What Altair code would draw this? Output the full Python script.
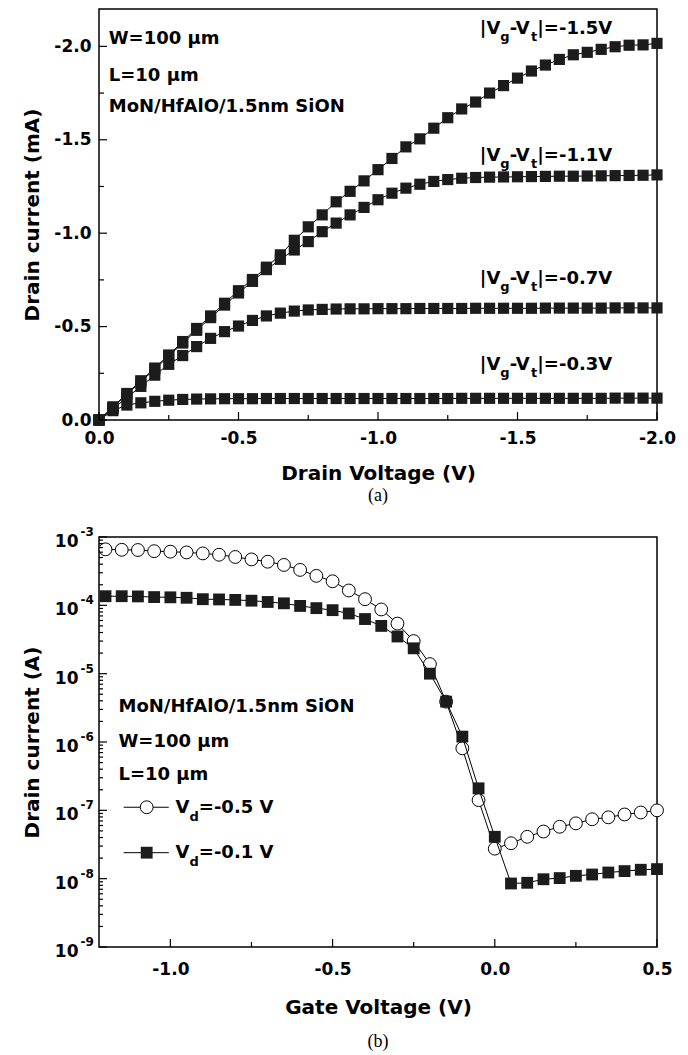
import altair as alt
import pandas as pd

# ---------------- Panel (a): output characteristics (mA) ----------------
vd = [0.0, -0.05, -0.1, -0.15, -0.2, -0.25, -0.3, -0.35, -0.4, -0.45, -0.5,
      -0.55, -0.6, -0.65, -0.7, -0.75, -0.8, -0.85, -0.9, -0.95, -1.0,
      -1.05, -1.1, -1.15, -1.2, -1.25, -1.3, -1.35, -1.4, -1.45, -1.5,
      -1.55, -1.6, -1.65, -1.7, -1.75, -1.8, -1.85, -1.9, -1.95, -2.0]

id_03 = [0.0, -0.050, -0.080, -0.092, -0.100, -0.106, -0.110, -0.112, -0.113, -0.114,
         -0.114, -0.114, -0.115, -0.115, -0.115, -0.115, -0.115, -0.115, -0.115, -0.115,
         -0.115, -0.115, -0.115, -0.115, -0.115, -0.115, -0.116, -0.116, -0.116, -0.116,
         -0.116, -0.116, -0.116, -0.116, -0.116, -0.116, -0.116, -0.117, -0.117, -0.117,
         -0.117]
id_07 = [0.0, -0.060, -0.120, -0.180, -0.240, -0.298, -0.345, -0.393, -0.437, -0.473,
         -0.503, -0.533, -0.557, -0.572, -0.583, -0.589, -0.592, -0.594, -0.595, -0.595,
         -0.596, -0.596, -0.596, -0.597, -0.597, -0.597, -0.597, -0.598, -0.598, -0.598,
         -0.598, -0.598, -0.599, -0.599, -0.599, -0.599, -0.599, -0.600, -0.600, -0.600,
         -0.600]
id_11 = [0.0, -0.068, -0.138, -0.205, -0.272, -0.342, -0.412, -0.480, -0.548, -0.615,
         -0.680, -0.742, -0.805, -0.860, -0.910, -0.955, -1.008, -1.054, -1.098, -1.138,
         -1.179, -1.214, -1.241, -1.262, -1.277, -1.287, -1.294, -1.298, -1.300, -1.301,
         -1.302, -1.303, -1.304, -1.305, -1.305, -1.306, -1.307, -1.308, -1.309, -1.310,
         -1.312]
id_15 = [0.0, -0.070, -0.142, -0.210, -0.278, -0.348, -0.420, -0.490, -0.557, -0.625,
         -0.692, -0.752, -0.818, -0.884, -0.962, -1.034, -1.098, -1.168, -1.224, -1.280,
         -1.340, -1.400, -1.462, -1.505, -1.562, -1.618, -1.665, -1.702, -1.750, -1.790,
         -1.830, -1.868, -1.900, -1.930, -1.955, -1.968, -1.984, -1.998, -2.006, -2.008,
         -2.016]

a_info = ["W=100 µm", "L=10 µm", "MoN/HfAlO/1.5nm SiON"]
a_info_x = -0.035
a_info_y = [-2.012, -1.817, -1.651]
a_lab_tail = ["|=-1.5V", "|=-1.1V", "|=-0.7V", "|=-0.3V"]
a_lab_x = -1.365
a_lab_y = [-2.066, -1.389, -0.729, -0.266]

a_x_major = [0.0, -0.5, -1.0, -1.5, -2.0]
a_x_minor = [-0.25, -0.75, -1.25, -1.75]
a_y_major = [0.0, -0.5, -1.0, -1.5, -2.0]
a_y_minor = [-0.25, -0.75, -1.25, -1.75]

# ---------------- Panel (b): transfer characteristics (A) ----------------
vg = [-1.2, -1.15, -1.1, -1.05, -1.0, -0.95, -0.9, -0.85, -0.8, -0.75,
      -0.7, -0.65, -0.6, -0.55, -0.5, -0.45, -0.4, -0.35, -0.3, -0.25,
      -0.2, -0.15, -0.1, -0.05, 0.0, 0.05, 0.1, 0.15, 0.2, 0.25,
      0.3, 0.35, 0.4, 0.45, 0.5]
id_05 = [6.6e-4, 6.5e-4, 6.45e-4, 6.2e-4, 6.1e-4, 5.95e-4, 5.75e-4, 5.5e-4, 5.1e-4, 4.7e-4,
         4.35e-4, 3.9e-4, 3.3e-4, 2.7e-4, 2.25e-4, 1.65e-4, 1.23e-4, 8.7e-5, 5.4e-5, 3.0e-5,
         1.38e-5, 3.9e-6, 8.1e-7, 1.41e-7, 2.75e-8, 3.3e-8, 4.1e-8, 4.9e-8, 5.75e-8, 6.45e-8,
         7.4e-8, 7.9e-8, 8.7e-8, 9.3e-8, 1.0e-7]
id_01 = [1.36e-4, 1.36e-4, 1.35e-4, 1.32e-4, 1.31e-4, 1.29e-4, 1.23e-4, 1.22e-4, 1.2e-4, 1.17e-4,
         1.12e-4, 1.07e-4, 9.8e-5, 9.1e-5, 8.5e-5, 7.6e-5, 6.3e-5, 5.0e-5, 3.5e-5, 2.35e-5,
         1.0e-5, 3.9e-6, 1.2e-6, 2.1e-7, 4.1e-8, 8.5e-9, 8.7e-9, 9.8e-9, 1.02e-8, 1.1e-8,
         1.15e-8, 1.23e-8, 1.29e-8, 1.35e-8, 1.38e-8]

b_info = ["MoN/HfAlO/1.5nm SiON", "W=100 µm", "L=10 µm"]
b_info_x = -1.16
b_info_y = [2.74e-6, 8.4e-7, 2.77e-7]
b_leg_tail = ["=-0.5 V", "=-0.1 V"]
b_leg_line_x = [-1.144, -1.005]
b_leg_marker_x = -1.073
b_leg_y = [1.11e-7, 2.4e-8]
b_leg_text_x = -0.984
b_leg_base_y = [9.1e-8, 2.0e-8]

b_x_major = [-1.0, -0.5, 0.0, 0.5]
b_x_minor = [-0.75, -0.25, 0.25]
b_decades = [1e-9, 1e-8, 1e-7, 1e-6, 1e-5, 1e-4, 1e-3]
b_exps = ["-9", "-8", "-7", "-6", "-5", "-4", "-3"]
b_minor_mult = [2, 3, 4, 5, 6, 7, 8, 9]
b_y_minor = [m * d for d in b_decades[:-1] for m in b_minor_mult]

# ---------------- styling ----------------
FONT = "DejaVu Sans"
SERIF = "Liberation Serif"
TICK_FS = 17
ANN_FS = 18
SUB_FS = 13
TITLE_FS = 20
W = 558
H1 = 411
H2 = 410
MAJ = 8
MIN = 5
SQ_COLOR = "#1c1c1c"

EM = {"|": 0.367, "V": 0.774, "-": 0.415, "g": 0.716, "t": 0.478, "d": 0.716}


def tw(s, fs):
    return sum(EM.get(c, 0.6) for c in s) * fs


MINUS_FIX = "replace(format(datum.value, '.1f'), '\u2212', '-')"

xs_a = alt.Scale(domain=[0, -2.0], nice=False, zero=False)
ys_a = alt.Scale(domain=[0, -2.2], nice=False, zero=False)
xs_b = alt.Scale(domain=[-1.22, 0.5], nice=False, zero=False)
ys_b = alt.Scale(type="log", domain=[1e-9, 1e-3], nice=False)


def x_axis(values, title, pad, title_y):
    return alt.Axis(values=values, labelExpr=MINUS_FIX, ticks=False, tickSize=0, domain=False,
                    grid=False, labelFont=FONT, labelFontSize=TICK_FS, labelFontWeight="bold",
                    labelColor="black", labelPadding=pad, labelFlush=False, labelOverlap=False,
                    title=title, titleFont=FONT, titleFontSize=TITLE_FS, titleFontWeight="bold",
                    titleColor="black", titleX=W / 2, titleY=title_y, titleAlign="center",
                    titleBaseline="alphabetic")


def y_axis(title, H, values=None, labels=True):
    kw = dict(ticks=False, tickSize=0, domain=False, grid=False, title=title, titleFont=FONT,
              titleFontSize=TITLE_FS, titleFontWeight="bold", titleColor="black",
              titleAngle=270, titleX=-67, titleY=H / 2, titleAlign="center",
              titleBaseline="middle")
    if labels:
        kw.update(values=values, labelExpr=MINUS_FIX, labelFont=FONT, labelFontSize=TICK_FS,
                  labelFontWeight="bold", labelColor="black", labelPadding=8)
    else:
        kw.update(labels=False)
    return alt.Axis(**kw)


AX_A_X = x_axis(a_x_major, "Drain Voltage (V)", 10, 59)
AX_A_Y = y_axis("Drain current (mA)", H1, a_y_major)
AX_B_X = x_axis(b_x_major, "Gate Voltage (V)", 14, 66)
AX_B_Y = y_axis("Drain current (A)", H2, labels=False)

PANEL = {
    "a": (xs_a, ys_a, AX_A_X, AX_A_Y, H1),
    "b": (xs_b, ys_b, AX_B_X, AX_B_Y, H2),
}


def X(field, p):
    return alt.X(field + ":Q", scale=PANEL[p][0], axis=PANEL[p][2])


def Y(field, p):
    return alt.Y(field + ":Q", scale=PANEL[p][1], axis=PANEL[p][3])


def tick_x(vals, L, p):
    H = PANEL[p][4]
    return alt.Chart(pd.DataFrame({"v": vals})).mark_rule(color="black", strokeWidth=1.2).encode(
        x=X("v", p), y=alt.value(H), y2=alt.value(H - L))


def tick_y(vals, L, p):
    return alt.Chart(pd.DataFrame({"v": vals})).mark_rule(color="black", strokeWidth=1.2).encode(
        y=Y("v", p), x=alt.value(0), x2=alt.value(L))


def text_layer(df, p, field=None, text=None, fs=ANN_FS, dx=0, dy=0, align="left",
               baseline="alphabetic"):
    kw = dict(font=FONT, fontSize=fs, fontWeight="bold", color="black", align=align,
              baseline=baseline, dx=dx, dy=dy)
    if text is not None:
        kw["text"] = text
    enc = dict(x=X("x", p), y=Y("y", p))
    if field is not None:
        enc["text"] = alt.Text(field + ":N")
    return alt.Chart(df).mark_text(**kw).encode(**enc)


# ---------------- panel (a) ----------------
df_a = pd.DataFrame({
    "vd": vd * 4,
    "id": id_15 + id_11 + id_07 + id_03,
    "s": ["1.5"] * len(vd) + ["1.1"] * len(vd) + ["0.7"] * len(vd) + ["0.3"] * len(vd),
})

lines_a = alt.Chart(df_a).mark_line(color="black", strokeWidth=1).encode(
    x=X("vd", "a"), y=Y("id", "a"), detail="s:N")
pts_a = alt.Chart(df_a).mark_point(shape="square", filled=True, size=125, color=SQ_COLOR,
                                   opacity=1).encode(x=X("vd", "a"), y=Y("id", "a"))

df_ainfo = pd.DataFrame({"x": [a_info_x] * len(a_info), "y": a_info_y, "t": a_info})
df_alab = pd.DataFrame({"x": [a_lab_x] * len(a_lab_y), "y": a_lab_y, "t": a_lab_tail})

o2 = tw("|V", ANN_FS)
o3 = o2 + tw("g", SUB_FS)
o4 = o3 + tw("-V", ANN_FS)
o5 = o4 + tw("t", SUB_FS)

top = alt.layer(
    lines_a, pts_a,
    tick_x(a_x_major, MAJ, "a"), tick_x(a_x_minor, MIN, "a"),
    tick_y(a_y_major, MAJ, "a"), tick_y(a_y_minor, MIN, "a"),
    text_layer(df_ainfo, "a", field="t"),
    text_layer(df_alab, "a", text="|V"),
    text_layer(df_alab, "a", text="g", fs=SUB_FS, dx=o2, dy=7),
    text_layer(df_alab, "a", text="-V", dx=o3),
    text_layer(df_alab, "a", text="t", fs=SUB_FS, dx=o4, dy=7),
    text_layer(df_alab, "a", field="t", dx=o5),
).properties(
    width=W, height=H1,
    title=alt.TitleParams(text="(a)", orient="bottom", anchor="middle", frame="group",
                          font=SERIF, fontSize=18, fontWeight="normal", color="black", offset=4),
)

# ---------------- panel (b) ----------------
df_b05 = pd.DataFrame({"vg": vg, "id": id_05})
df_b01 = pd.DataFrame({"vg": vg, "id": id_01})

line_b05 = alt.Chart(df_b05).mark_line(color="black", strokeWidth=1).encode(
    x=X("vg", "b"), y=Y("id", "b"))
circ_b = alt.Chart(df_b05).mark_point(shape="circle", filled=True, fill="white", stroke="black",
                                      strokeWidth=1, size=165, opacity=1).encode(
    x=X("vg", "b"), y=Y("id", "b"))
line_b01 = alt.Chart(df_b01).mark_line(color="black", strokeWidth=1).encode(
    x=X("vg", "b"), y=Y("id", "b"))
sq_b = alt.Chart(df_b01).mark_point(shape="square", filled=True, size=140, color=SQ_COLOR,
                                    opacity=1).encode(x=X("vg", "b"), y=Y("id", "b"))

df_dec = pd.DataFrame({"x": [xs_b.domain[0]] * len(b_decades), "y": b_decades,
                       "t": ["10"] * len(b_decades), "e": b_exps})
df_binfo = pd.DataFrame({"x": [b_info_x] * len(b_info), "y": b_info_y, "t": b_info})

df_leg_line = pd.DataFrame({
    "x": b_leg_line_x * 2,
    "y": [b_leg_y[0]] * 2 + [b_leg_y[1]] * 2,
    "k": ["a", "a", "b", "b"],
})
df_leg_c = pd.DataFrame({"x": [b_leg_marker_x], "y": [b_leg_y[0]]})
df_leg_s = pd.DataFrame({"x": [b_leg_marker_x], "y": [b_leg_y[1]]})
df_leg_t = pd.DataFrame({"x": [b_leg_text_x] * 2, "y": b_leg_base_y, "t": b_leg_tail})

leg_line = alt.Chart(df_leg_line).mark_line(color="black", strokeWidth=1).encode(
    x=X("x", "b"), y=Y("y", "b"), detail="k:N")
leg_c = alt.Chart(df_leg_c).mark_point(shape="circle", filled=True, fill="white", stroke="black",
                                       strokeWidth=1, size=165, opacity=1).encode(
    x=X("x", "b"), y=Y("y", "b"))
leg_s = alt.Chart(df_leg_s).mark_point(shape="square", filled=True, size=140, color=SQ_COLOR,
                                       opacity=1).encode(x=X("x", "b"), y=Y("y", "b"))

q2 = tw("V", ANN_FS)
q3 = q2 + tw("d", SUB_FS)

bottom = alt.layer(
    line_b05, circ_b, line_b01, sq_b,
    tick_x(b_x_major, MAJ, "b"), tick_x(b_x_minor, MIN, "b"),
    tick_y(b_decades, MAJ, "b"), tick_y(b_y_minor, 4, "b"),
    text_layer(df_dec, "b", field="t", fs=TICK_FS, dx=-20.5, dy=10, align="right"),
    text_layer(df_dec, "b", field="e", fs=12, dx=-18.5, dy=-1, align="left"),
    text_layer(df_binfo, "b", field="t"),
    leg_line, leg_c, leg_s,
    text_layer(df_leg_t, "b", text="V"),
    text_layer(df_leg_t, "b", text="d", fs=SUB_FS, dx=q2, dy=8),
    text_layer(df_leg_t, "b", field="t", dx=q3),
).properties(
    width=W, height=H2,
    title=alt.TitleParams(text="(b)", orient="bottom", anchor="middle", frame="group",
                          font=SERIF, fontSize=18, fontWeight="normal", color="black", offset=16),
)

chart = alt.vconcat(top, bottom, spacing=19).properties(
    padding={"left": 13, "top": 0, "right": 0, "bottom": 0},
    background="white",
).configure_view(stroke="black", strokeWidth=1.5)

chart.save("out.html", embed_options={"renderer": "svg", "actions": False})
